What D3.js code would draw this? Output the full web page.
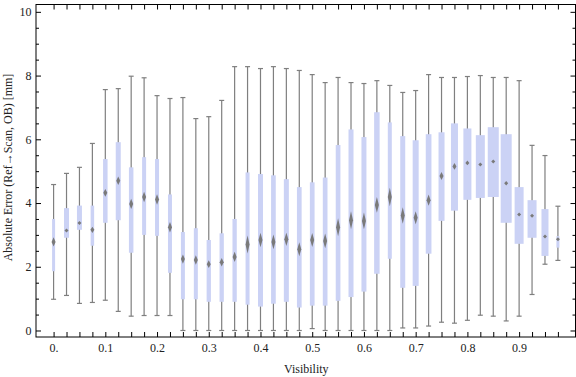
<!DOCTYPE html>
<html lang="en">
<head>
<meta charset="UTF-8">
<title>Absolute Error vs Visibility</title>
<script src="https://d3js.org/d3.v7.min.js"></script>
<style>
  body { margin: 0; background: #fff; }
  .chart svg text { font-family: "Liberation Serif", "DejaVu Serif", serif; font-size: 12px; fill: #222; }
</style>
</head>
<body>
<div class="chart"></div>
<script>
// box positions (visibility bins)
const visibility = [0, 0.025, 0.05, 0.075, 0.1, 0.125, 0.15, 0.175, 0.2, 0.225,
  0.25, 0.275, 0.3, 0.325, 0.35, 0.375, 0.4, 0.425, 0.45, 0.475,
  0.5, 0.525, 0.55, 0.575, 0.6, 0.625, 0.65, 0.675, 0.7, 0.725,
  0.75, 0.775, 0.8, 0.825, 0.85, 0.875, 0.9, 0.925, 0.95, 0.975];

// box statistics [mm]
const lowWhisker = [0.98, 1.10, 0.85, 0.88, 0.95, 0.60, 0.45, 0.47, 0.47, 0.47,
  0.00, 0.00, 0.00, 0.00, 0.00, 0.00, 0.00, 0.00, 0.00, 0.00,
  0.06, 0.00, 0.00, 0.00, 0.00, 0.00, 0.00, 0.08, 0.08, 0.14,
  0.26, 0.23, 0.32, 0.48, 0.45, 0.30, 0.45, 1.13, 2.08, 2.20];
const lowerQuartile = [1.86, 2.91, 3.16, 2.66, 3.38, 3.46, 2.44, 3.00, 2.97, 1.81,
  0.98, 0.98, 0.90, 0.90, 0.90, 0.81, 0.75, 0.84, 0.90, 0.72,
  0.78, 0.78, 0.93, 1.05, 1.22, 1.78, 2.25, 1.34, 1.40, 2.41,
  3.44, 3.76, 4.10, 4.16, 4.19, 3.38, 2.72, 2.91, 2.34, 2.60];
const median = [2.78, 3.14, 3.37, 3.16, 4.32, 4.70, 3.97, 4.19, 4.11, 3.24,
  2.24, 2.21, 2.08, 2.14, 2.31, 2.70, 2.84, 2.78, 2.86, 2.55,
  2.84, 2.81, 3.24, 3.46, 3.44, 3.94, 4.19, 3.61, 3.54, 4.09,
  4.85, 5.15, 5.26, 5.21, 5.30, 4.62, 3.64, 3.60, 2.95, 2.86];
const upperQuartile = [3.50, 3.84, 3.92, 3.92, 5.38, 5.91, 5.12, 5.44, 5.38, 4.27,
  3.09, 3.21, 2.84, 3.05, 3.50, 4.96, 4.91, 4.87, 4.75, 4.50,
  4.65, 4.80, 5.82, 6.31, 6.07, 6.85, 6.53, 6.10, 5.97, 6.16,
  6.22, 6.50, 6.34, 6.13, 6.38, 6.16, 4.50, 4.09, 3.81, 2.96];
const highWhisker = [4.58, 4.93, 5.12, 5.87, 7.56, 7.59, 7.98, 7.93, 7.37, 7.28,
  7.31, 6.65, 6.71, 7.22, 8.28, 8.28, 8.22, 8.28, 8.22, 8.16,
  8.03, 7.78, 7.94, 7.78, 7.75, 7.84, 7.69, 7.47, 7.53, 8.03,
  7.94, 7.94, 7.97, 8.00, 7.94, 7.94, 7.84, 5.81, 5.49, 3.90];
// relative box weight (box width grows with it)
const boxWeight = [3, 5, 5, 3.5, 4.5, 5, 4.5, 4, 4, 4,
  4, 4, 4.3, 4.3, 4.3, 4, 5, 4.7, 5, 4.7,
  4.7, 4.7, 4.7, 5, 5, 5.5, 4, 5, 6, 5.7,
  6, 7, 8, 9, 11, 11, 9, 9, 7, 3];

const xTickValues = [0, 0.1, 0.2, 0.3, 0.4, 0.5, 0.6, 0.7, 0.8, 0.9];
const xTickLabels = ["0.", "0.1", "0.2", "0.3", "0.4", "0.5", "0.6", "0.7", "0.8", "0.9"];
const yTickValues = [0, 2, 4, 6, 8, 10];
const yMinorValues = [0.5, 1, 1.5, 2.5, 3, 3.5, 4.5, 5, 5.5, 6.5, 7, 7.5, 8.5, 9, 9.5];

const data = visibility.map((v, i) => ({
  v, lo: lowWhisker[i], q1: lowerQuartile[i], med: median[i],
  q3: upperQuartile[i], hi: highWhisker[i], w: boxWeight[i]
}));

const svgWidth = 576, svgHeight = 377;
const frame = {left: 36, right: 575.5, top: 4.5, bottom: 337};

const svg = d3.select(".chart").append("svg")
  .attr("width", svgWidth)
  .attr("height", svgHeight);

const x = d3.scaleLinear().domain([-0.034, 1.009]).range([frame.left, frame.right]);
const y = d3.scaleLinear().domain([-0.204, 10.23]).range([frame.bottom, frame.top]);
const boxW = d3.scaleLinear().domain([0, 11]).range([0, 11]);

// whiskers
const plot = svg.append("g");
plot.selectAll(".whisker")
  .data(data)
  .join("line")
    .attr("x1", d => x(d.v)).attr("x2", d => x(d.v))
    .attr("y1", d => y(d.lo)).attr("y2", d => y(d.hi))
    .attr("stroke", "#7f7f7f").attr("stroke-width", 1.2);

["lo", "hi"].forEach(k => {
  plot.selectAll(".cap-" + k)
    .data(data)
    .join("line")
      .attr("x1", d => x(d.v) - 2.5).attr("x2", d => x(d.v) + 2.5)
      .attr("y1", d => y(d[k])).attr("y2", d => y(d[k]))
      .attr("stroke", "#7f7f7f").attr("stroke-width", 1.2);
});

// boxes
plot.selectAll(".box")
  .data(data)
  .join("rect")
    .attr("x", d => x(d.v) - boxW(d.w) / 2)
    .attr("width", d => boxW(d.w))
    .attr("y", d => y(d.q3))
    .attr("height", d => y(d.q1) - y(d.q3))
    .attr("fill", "#cbd2f5");

// median notch diamonds
const defs = svg.append("defs");
defs.append("filter").attr("id", "soft")
  .append("feGaussianBlur").attr("stdDeviation", 0.5);

plot.selectAll(".notch")
  .data(data)
  .join("path")
    .attr("d", d => {
      const cx = x(d.v), cy = y(d.med);
      const h = Math.max(2, y(0) - y(0.27 * (d.q3 - d.q1) / d.w));
      return `M${cx},${cy - h}L${cx + 2},${cy}L${cx},${cy + h}L${cx - 2},${cy}Z`;
    })
    .attr("fill", "#7a7a7a")
    .attr("filter", "url(#soft)");

// frame axes
const styleAxis = g => {
  g.select(".domain").remove();
  g.selectAll(".tick line").attr("stroke", "#000");
  g.selectAll(".tick text").attr("fill", "#222");
};

svg.append("g")
  .attr("transform", `translate(0,${frame.bottom})`)
  .call(d3.axisBottom(x).tickValues(visibility).tickSizeInner(-5).tickSizeOuter(0).tickFormat(() => ""))
  .call(styleAxis);
svg.append("g")
  .attr("transform", `translate(0,${frame.bottom})`)
  .call(d3.axisBottom(x).tickValues(xTickValues).tickSize(0).tickPadding(6)
    .tickFormat((d, i) => xTickLabels[i]))
  .call(styleAxis);
svg.append("g")
  .attr("transform", `translate(0,${frame.top})`)
  .call(d3.axisTop(x).tickValues(visibility).tickSizeInner(-5).tickSizeOuter(0).tickFormat(() => ""))
  .call(styleAxis);

svg.append("g")
  .attr("transform", `translate(${frame.left},0)`)
  .call(d3.axisLeft(y).tickValues(yTickValues).tickSizeInner(-5).tickSizeOuter(0).tickPadding(4.5)
    .tickFormat(d3.format("d")))
  .call(styleAxis);
svg.append("g")
  .attr("transform", `translate(${frame.left},0)`)
  .call(d3.axisLeft(y).tickValues(yMinorValues).tickSizeInner(-3).tickSizeOuter(0).tickFormat(() => ""))
  .call(styleAxis);
svg.append("g")
  .attr("transform", `translate(${frame.right},0)`)
  .call(d3.axisRight(y).tickValues(yTickValues).tickSizeInner(-5).tickSizeOuter(0).tickFormat(() => ""))
  .call(styleAxis);
svg.append("g")
  .attr("transform", `translate(${frame.right},0)`)
  .call(d3.axisRight(y).tickValues(yMinorValues).tickSizeInner(-3).tickSizeOuter(0).tickFormat(() => ""))
  .call(styleAxis);

svg.append("rect")
  .attr("x", frame.left).attr("y", frame.top)
  .attr("width", frame.right - frame.left)
  .attr("height", frame.bottom - frame.top)
  .attr("fill", "none").attr("stroke", "#000").attr("stroke-width", 1);

svg.selectAll(".tick text")
  .style("font-family", '"Liberation Serif", "DejaVu Serif", serif')
  .style("font-size", "12px");

// axis titles
svg.append("text")
  .attr("x", (frame.left + frame.right) / 2 + 0.5)
  .attr("y", 373)
  .attr("text-anchor", "middle")
  .text("Visibility");

svg.append("text")
  .attr("transform", "translate(11.5,167.5) rotate(-90)")
  .attr("text-anchor", "middle")
  .text("Absolute Error (Ref\u2192Scan, OB) [mm]");
</script>
</body>
</html>
